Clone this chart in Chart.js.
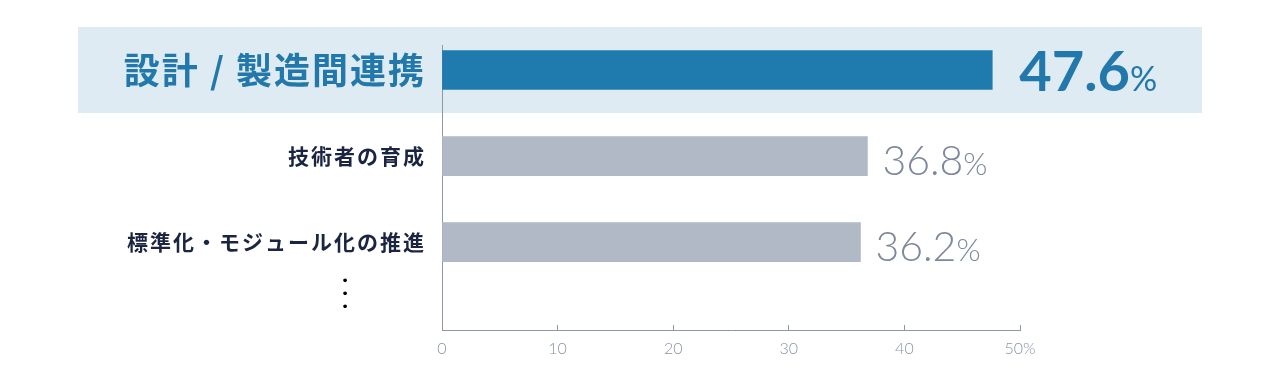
<!DOCTYPE html>
<html lang="ja">
<head>
<meta charset="utf-8">
<title>課題ランキング</title>
<script src="https://cdn.jsdelivr.net/npm/chart.js@4.4.1/dist/chart.umd.min.js"></script>
<style>
  html, body { margin: 0; padding: 0; background: #ffffff; }
  #wrap { position: relative; width: 1280px; height: 376px; }
  #more {
    position: absolute; left: 339px; top: 274px;
    font: 13px/13px "DejaVu Sans", sans-serif; color: #000;
    text-align: center; width: 12px;
  }
</style>
</head>
<body>
<div id="wrap">
  <canvas id="chart" width="1280" height="376"></canvas>
  <div id="more">•<br>•<br>•</div>
</div>
<script>
const categories = ["設計 / 製造間連携", "技術者の育成", "標準化・モジュール化の推進"];
const values = [47.6, 36.8, 36.2];
const xTicks = [0, 10, 20, 30, 40, 50];

const blue = "#1f7aad";
const blueText = "#2278ab";
const grayBar = "#b1b8c6";
const grayText = "#7d889b";
const navy = "#1b2440";
const axisColor = "#8c97aa";
const band = "#deebf3";
const jp = '"Noto Sans CJK JP", "Noto Sans", sans-serif';

// light band behind the first row, then a bit of letter spacing for the category labels
const bandPlugin = {
    id: "band",
    beforeDraw(chart) {
        const y = chart.scales.y;
        const top = y.getPixelForValue(-0.5);
        const bottom = y.getPixelForValue(0.5);
        const ctx = chart.ctx;
        ctx.save();
        ctx.fillStyle = band;
        ctx.fillRect(78, top, 1202 - 78, bottom - top);
        ctx.restore();
        ctx.letterSpacing = "2px";
    },
    beforeDatasetsDraw(chart) {
        chart.ctx.letterSpacing = "0px";
    }
};

const valueLabels = {
    id: "valueLabels",
    afterDatasetsDraw(chart) {
        const ctx = chart.ctx;
        const meta = chart.getDatasetMeta(0);
        meta.data.forEach((bar, i) => {
            const hi = i === 0;
            const num = values[i].toFixed(1);
            const x = bar.x + (hi ? 27 : 15);
            const y = bar.y + (hi ? 21 : 19);
            ctx.save();
            ctx.textAlign = "left";
            ctx.textBaseline = "alphabetic";
            ctx.fillStyle = hi ? blueText : grayText;
            ctx.font = hi ? "bold 56px Lato" : "300 41px Lato";
            ctx.fillText(num, x, y);
            const w = ctx.measureText(num).width;
            ctx.font = hi ? "normal 34px Lato" : "300 31px Lato";
            ctx.fillText("%", x + w, y);
            ctx.restore();
        });
    }
};

new Chart(document.getElementById("chart"), {
    type: "bar",
    data: {
        datasets: [{
            data: values.map((v, i) => ({ x: v, y: i })),
            backgroundColor: values.map((v, i) => i === 0 ? blue : grayBar),
            barThickness: 39,
            borderWidth: 0
        }]
    },
    options: {
        indexAxis: "y",
        responsive: false,
        animation: false,
        layout: { padding: { left: 0, top: 45, right: 260, bottom: 0 } },
        plugins: {
            legend: { display: false },
            tooltip: { enabled: false }
        },
        scales: {
            x: {
                type: "linear",
                min: 0,
                max: 50,
                afterFit: (s) => { s.height = 46; },
                afterBuildTicks: (s) => { s.ticks = xTicks.map((v) => ({ value: v })); },
                ticks: {
                    z: 1,
                    callback: (v) => v === 50 ? v + "%" : String(v),
                    color: "#8a94a7",
                    font: { family: "Lato", size: 16, weight: "300" },
                    padding: 14,
                    maxRotation: 0
                },
                grid: {
                    drawOnChartArea: false,
                    drawTicks: true,
                    tickLength: -5,
                    tickColor: axisColor,
                    color: axisColor
                },
                border: { display: true, color: axisColor, width: 1 }
            },
            y: {
                type: "linear",
                offset: false,
                reverse: true,
                min: -0.29,
                max: 3.02,
                afterFit: (s) => { s.width = 442; },
                afterBuildTicks: (s) => { s.ticks = categories.map((c, i) => ({ value: i })); },
                ticks: {
                    callback: (v) => categories[v],
                    padding: 16,
                    color: (c) => c.index === 0 ? blueText : navy,
                    font: (c) => c.index === 0
                        ? { family: jp, size: 36, weight: "bold" }
                        : { family: jp, size: 21, weight: "bold" }
                },
                grid: { display: false, drawTicks: false, offset: false },
                border: { display: true, color: axisColor, width: 1 }
            }
        }
    },
    plugins: [bandPlugin, valueLabels]
});
</script>
</body>
</html>
